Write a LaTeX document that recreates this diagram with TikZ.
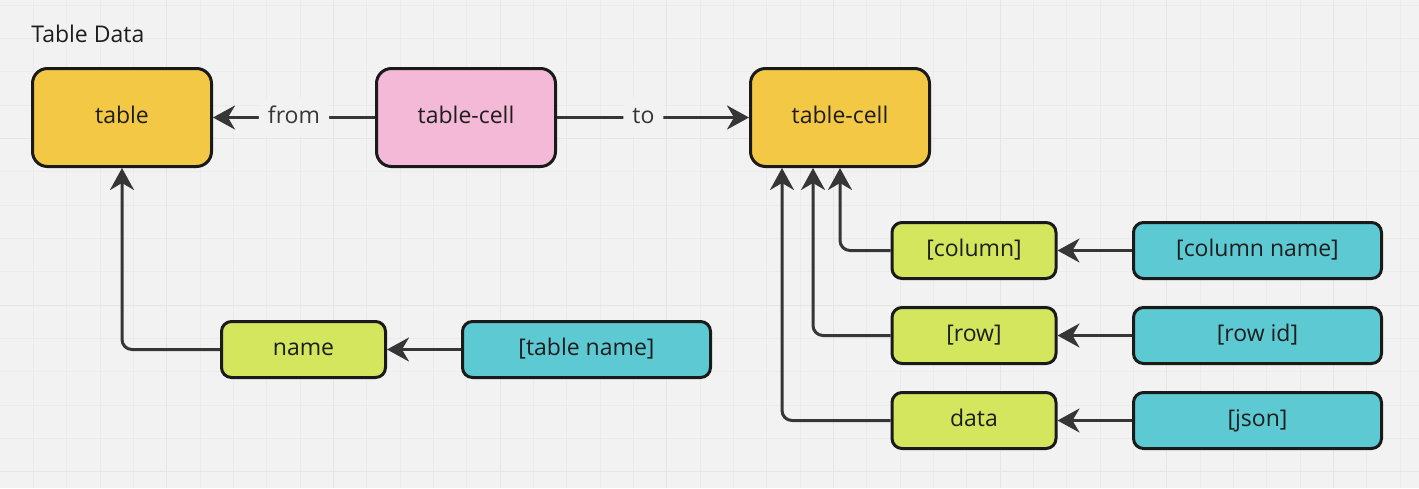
\documentclass[tikz,border=0pt]{standalone}
\usepackage{fontspec}
\setmainfont{Open Sans}
\usetikzlibrary{arrows.meta}
\newcommand{\pxu}{0.5pt}

\definecolor{bgcol}{HTML}{F2F2F2}
\definecolor{gridmin}{HTML}{EBEBEB}
\definecolor{gridmaj}{HTML}{E5E5E5}
\definecolor{edgecol}{HTML}{1A1A1A}
\definecolor{linkcol}{HTML}{363636}
\definecolor{txtcol}{HTML}{1E1E1E}
\definecolor{tblyellow}{HTML}{F2C845}
\definecolor{tblpink}{HTML}{F4B9D7}
\definecolor{tbllime}{HTML}{D4E55E}
\definecolor{tblcyan}{HTML}{5DC9D2}

\begin{document}
\begin{tikzpicture}[x=\pxu, y=-\pxu, font=\fontsize{11.5}{14}\selectfont,
    box/.style={draw=edgecol, line width=1.5pt, rectangle, inner sep=0pt, text=txtcol, text height=8.2pt, text depth=2pt},
    bigbox/.style={box, rounded corners=7.5pt, minimum width=179*\pxu, minimum height=98*\pxu},
    smallbox/.style={box, rounded corners=5pt, minimum width=164*\pxu, minimum height=56*\pxu},
    widebox/.style={box, rounded corners=5pt, minimum width=248*\pxu, minimum height=56*\pxu},
    link/.style={draw=linkcol, line width=1.5pt, rounded corners=5pt, -{Stealth[length=11pt, width=12pt, inset=3.5pt]}},
    lbl/.style={fill=bgcol, inner sep=4.5pt, text=linkcol, text height=8.2pt, text depth=2pt}]

    % Background and grid
    \fill[bgcol] (0,0) rectangle (1419,488);
    \useasboundingbox (0,0) rectangle (1419,488);
    \foreach \i in {1,...,42} \draw[gridmin, line width=0.5pt] (\i*33.333,0) -- (\i*33.333,488);
    \foreach \j in {0,...,14} \draw[gridmin, line width=0.5pt] (0,5.2+\j*33.333) -- (1419,5.2+\j*33.333);
    \foreach \i in {1,...,8} \draw[gridmaj, line width=0.5pt] (\i*166.667,0) -- (\i*166.667,488);
    \foreach \j in {0,1,2} \draw[gridmaj, line width=0.5pt] (0,138.5+\j*166.667) -- (1419,138.5+\j*166.667);

    \node[anchor=base west, inner sep=0pt, text=txtcol] (title) at (31,42) {Table Data};

    % Top row
    \node[bigbox, fill=tblyellow] (table) at (122,117.5) {table};
    \node[bigbox, fill=tblpink] (cella) at (466,117.5) {table-cell};
    \node[bigbox, fill=tblyellow] (cellb) at (840,117.5) {table-cell};

    % Table name
    \node[smallbox, fill=tbllime] (name) at (303.5,349.5) {name};
    \node[widebox, fill=tblcyan] (tblname) at (586.5,349.5) {[table name]};

    % Cell fields
    \node[smallbox, fill=tbllime] (column) at (974,250.5) {[column]};
    \node[smallbox, fill=tbllime] (row) at (974,335.5) {[row]};
    \node[smallbox, fill=tbllime] (data) at (974,420.5) {data};
    \node[widebox, fill=tblcyan] (colname) at (1257.5,250.5) {[column name]};
    \node[widebox, fill=tblcyan] (rowid) at (1257.5,335.5) {[row id]};
    \node[widebox, fill=tblcyan] (json) at (1257.5,420.5) {[json]};

    % Connectors
    \draw[link] (cella.west) -- node[lbl] {from} (table.east);
    \draw[link] (cella.east) -- node[lbl, pos=0.45] {to} (cellb.west);
    \draw[link] (name.west) -| (table.south);
    \draw[link] (tblname.west) -- (name.east);
    \draw[link] (column.west) -| (cellb.south);
    \draw[link] (row.west) -| ([xshift=-13.5pt]cellb.south);
    \draw[link] (data.west) -| ([xshift=-29pt]cellb.south);
    \draw[link] (colname.west) -- (column.east);
    \draw[link] (rowid.west) -- (row.east);
    \draw[link] (json.west) -- (data.east);

\end{tikzpicture}
\end{document}
